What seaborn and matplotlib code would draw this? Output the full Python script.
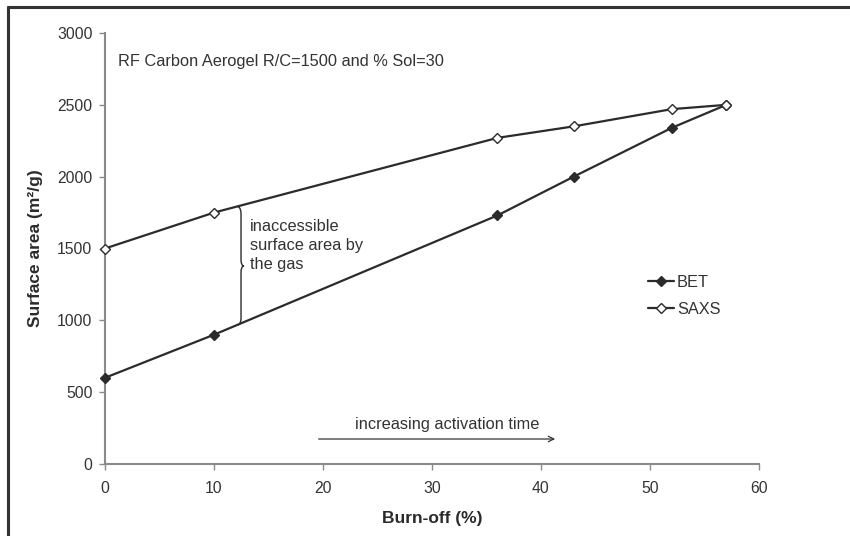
import numpy as np
import pandas as pd
import matplotlib
matplotlib.use('Agg')
import matplotlib.pyplot as plt
from matplotlib.lines import Line2D
from matplotlib.path import Path
from matplotlib.patches import PathPatch
import seaborn as sns

# data
burn_off = [0, 10, 36, 43, 52, 57]
bet = [600, 900, 1730, 2000, 2340, 2500]
saxs = [1500, 1750, 2270, 2350, 2470, 2500]
series_names = ['BET', 'SAXS']

x_ticks = [0, 10, 20, 30, 40, 50, 60]
y_ticks = [0, 500, 1000, 1500, 2000, 2500, 3000]

df = pd.DataFrame({
    'Burn-off': burn_off * 2,
    'Surface area': bet + saxs,
    'Series': [series_names[0]] * len(bet) + [series_names[1]] * len(saxs),
})

sns.set_style('white')
plt.rcParams['font.family'] = ['Liberation Sans', 'DejaVu Sans']

ink = '#2b2b2b'
grey = '#8a8a8a'
txt = '#333333'

fig = plt.figure(figsize=(8.5, 5.36), dpi=100)
ax = fig.add_axes([105 / 850, 1 - 464 / 536, 654 / 850, 431 / 536])

sns.lineplot(data=df, x='Burn-off', y='Surface area', hue='Series', style='Series',
             palette={'BET': ink, 'SAXS': ink}, markers={'BET': 'D', 'SAXS': 'D'},
             dashes=False, linewidth=1.6, markersize=5.5, ax=ax, legend=False)

# marker faces: BET filled, SAXS open
for line in ax.get_lines():
    line.set_markeredgecolor(ink)
    line.set_markeredgewidth(1.0)
    line.set_clip_on(False)
    line.set_zorder(5)
ax.get_lines()[1].set_markerfacecolor('white')
ax.get_lines()[0].set_markerfacecolor(ink)

ax.set_xlim(0, 60)
ax.set_ylim(0, 3000)
ax.set_xticks(x_ticks)
ax.set_yticks(y_ticks)
ax.tick_params(axis='both', direction='out', length=4, width=1, color=grey,
               labelsize=11.3, labelcolor=txt, bottom=True, left=True, pad=5)
ax.xaxis.set_tick_params(pad=8)

for side in ['top', 'right']:
    ax.spines[side].set_visible(False)
for side in ['left', 'bottom']:
    ax.spines[side].set_color(grey)
    ax.spines[side].set_linewidth(1.5)
ax.patch.set_alpha(0)

ax.set_xlabel('Burn-off (%)', fontsize=12.5, fontweight='bold', color=ink, labelpad=11)
ax.set_ylabel('Surface area (m²/g)', fontsize=12.5, fontweight='bold', color=ink, labelpad=10)

# legend
handles = [
    Line2D([], [], color=ink, lw=1.6, marker='D', markersize=5, markerfacecolor=ink, markeredgecolor=ink),
    Line2D([], [], color=ink, lw=1.6, marker='D', markersize=5, markerfacecolor='white', markeredgecolor=ink),
]
ax.legend(handles, series_names, loc='center left', bbox_to_anchor=(0.818, 0.39),
          frameon=False, fontsize=11.8, handlelength=1.6, handletextpad=0.15,
          labelspacing=0.75, borderpad=0, labelcolor=txt)

# annotations
ax.text(1.2, 2800, 'RF Carbon Aerogel R/C=1500 and % Sol=30', fontsize=11.8,
        color=txt, va='center', ha='left')
ax.text(13.3, 1705, 'inaccessible\nsurface area by\nthe gas', fontsize=11.8,
        color=txt, va='top', ha='left', linespacing=1.35)
ax.text(31.4, 275, 'increasing activation time', fontsize=11.8, color=txt,
        ha='center', va='center')
ax.annotate('', xy=(41.3, 174), xytext=(19.6, 174),
            arrowprops=dict(arrowstyle='->', color=txt, lw=0.9,
                            shrinkA=0, shrinkB=0, mutation_scale=10))

# curly brace between the two curves
verts = [(12.2, 1790), (12.48, 1785), (12.48, 1740),
         (12.48, 1420),
         (12.48, 1380), (12.75, 1378),
         (12.48, 1376), (12.48, 1336),
         (12.48, 1016),
         (12.48, 975), (12.2, 968)]
codes = [Path.MOVETO, Path.CURVE3, Path.CURVE3,
         Path.LINETO,
         Path.CURVE3, Path.CURVE3,
         Path.CURVE3, Path.CURVE3,
         Path.LINETO,
         Path.CURVE3, Path.CURVE3]
ax.add_patch(PathPatch(Path(verts, codes), facecolor='none', edgecolor=ink, lw=1.0))

# partial frame of the original figure (top and left edges)
fig.add_artist(Line2D([8 / 850, 1.0], [1 - 7 / 536, 1 - 7 / 536], transform=fig.transFigure,
                      color=txt, lw=2.2))
fig.add_artist(Line2D([8 / 850, 8 / 850], [0.0, 1 - 7 / 536], transform=fig.transFigure,
                      color=txt, lw=2.2))

fig.savefig('out.png', dpi=100)
